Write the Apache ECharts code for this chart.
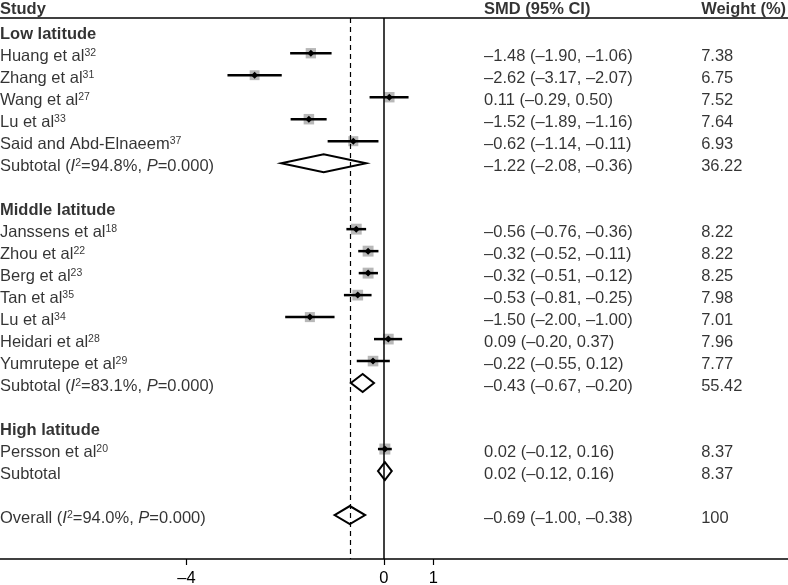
<!DOCTYPE html>
<html><head><meta charset="utf-8">
<script src="https://cdn.jsdelivr.net/npm/echarts@6/dist/echarts.min.js"></script>
<style>html,body{margin:0;padding:0;background:#fff}#c{width:788px;height:585px}</style>
</head><body><div id="c"></div>
<script>
// ---------- data ----------
const groupNames = ['Low latitude', 'Middle latitude', 'High latitude'];
const studyNames = ['Huang et al', 'Zhang et al', 'Wang et al', 'Lu et al', 'Said and Abd-Elnaeem',
  'Janssens et al', 'Zhou et al', 'Berg et al', 'Tan et al', 'Lu et al', 'Heidari et al', 'Yumrutepe et al',
  'Persson et al'];
const studyRefs = ['32', '31', '27', '33', '37', '18', '22', '23', '35', '34', '28', '29', '20'];
const studyGroup = [0, 0, 0, 0, 0, 1, 1, 1, 1, 1, 1, 1, 2];
const studySmd = [-1.48, -2.62, 0.11, -1.52, -0.62, -0.56, -0.32, -0.32, -0.53, -1.50, 0.09, -0.22, 0.02];
const studyLo = [-1.90, -3.17, -0.29, -1.89, -1.14, -0.76, -0.52, -0.51, -0.81, -2.00, -0.20, -0.55, -0.12];
const studyHi = [-1.06, -2.07, 0.50, -1.16, -0.11, -0.36, -0.11, -0.12, -0.25, -1.00, 0.37, 0.12, 0.16];
const studyWeight = [7.38, 6.75, 7.52, 7.64, 6.93, 8.22, 8.22, 8.25, 7.98, 7.01, 7.96, 7.77, 8.37];
const subSmd = [-1.22, -0.43, 0.02];
const subLo = [-2.08, -0.67, -0.12];
const subHi = [-0.36, -0.20, 0.16];
const subWeight = [36.22, 55.42, 8.37];
const subI2 = ['94.8', '83.1', null];
const subP = ['0.000', '0.000', null];
const overallSmd = -0.69, overallLo = -1.00, overallHi = -0.38, overallWeight = 100;
const overallI2 = '94.0', overallP = '0.000';
const tickValues = [-4, 0, 1];
const headers = ['Study', 'SMD (95% CI)', 'Weight (%)'];

// ---------- layout constants ----------
const X_MIN = -7.78, X_MAX = 8.19;
const COL_X = [X_MIN, 2.03, 6.43];
const HEADER_ROW = -1.15, HEADER_LINE_ROW = -0.6, AXIS_ROW = 24;
const FONT = "'Liberation Sans', Arial, Helvetica, sans-serif";
const FS = 16.5;

const fmt = v => v.toFixed(2).replace('-', '\u2013');
const ciText = (m, l, h) => `${fmt(m)} (${fmt(l)}, ${fmt(h)})`;
const esc = s => s.replace(/[{}|]/g, '');

// ---------- build rows ----------
const textItems = [];
const studyData = [];
const diamondData = [];
let r = 0;
headers.forEach((h, ci) => textItems.push({ value: [COL_X[ci], HEADER_ROW], name: `{b|${h}}` }));
groupNames.forEach((g, gi) => {
  textItems.push({ value: [COL_X[0], r], name: `{b|${esc(g)}}` });
  r++;
  studyNames.forEach((n, i) => {
    if (studyGroup[i] !== gi) return;
    textItems.push({ value: [COL_X[0], r], name: `{n|${esc(n)}}{s|${studyRefs[i]}}` });
    textItems.push({ value: [COL_X[1], r], name: `{n|${ciText(studySmd[i], studyLo[i], studyHi[i])}}` });
    textItems.push({ value: [COL_X[2], r], name: `{n|${String(studyWeight[i])}}` });
    studyData.push([r, studySmd[i], studyLo[i], studyHi[i], studyWeight[i]]);
    r++;
  });
  const lab = subI2[gi] ? `{n|Subtotal (}{i|I}{s|2}{n|=${subI2[gi]}%, }{i|P}{n|=${subP[gi]})}` : `{n|Subtotal}`;
  textItems.push({ value: [COL_X[0], r], name: lab });
  textItems.push({ value: [COL_X[1], r], name: `{n|${ciText(subSmd[gi], subLo[gi], subHi[gi])}}` });
  textItems.push({ value: [COL_X[2], r], name: `{n|${String(subWeight[gi])}}` });
  diamondData.push([r, subSmd[gi], subLo[gi], subHi[gi]]);
  r++;
  r++; // blank row
});
textItems.push({ value: [COL_X[0], r], name: `{n|Overall (}{i|I}{s|2}{n|=${overallI2}%, }{i|P}{n|=${overallP})}` });
textItems.push({ value: [COL_X[1], r], name: `{n|${ciText(overallSmd, overallLo, overallHi)}}` });
textItems.push({ value: [COL_X[2], r], name: `{n|${String(overallWeight)}}` });
diamondData.push([r, overallSmd, overallLo, overallHi]);

// ---------- render ----------
const chart = echarts.init(document.getElementById('c'), null, { renderer: 'canvas' });
const rich = {
  n: { fontSize: FS, fontFamily: FONT, color: '#000', lineHeight: 18 },
  b: { fontSize: FS, fontFamily: FONT, color: '#000', fontWeight: 'bold', lineHeight: 18 },
  i: { fontSize: FS, fontFamily: FONT, color: '#000', fontStyle: 'italic', lineHeight: 18 },
  s: { fontSize: 10.5, fontFamily: FONT, color: '#000', verticalAlign: 'top', lineHeight: 10 }
};

chart.setOption({
  animation: false,
  backgroundColor: '#fff',
  grid: { left: 0, right: 0, top: 0, bottom: 26, containLabel: false, outerBoundsMode: 'none' },
  xAxis: {
    type: 'value', min: X_MIN, max: X_MAX,
    splitLine: { show: false },
    axisLine: { show: true, onZero: false, lineStyle: { color: '#000', width: 1.5 } },
    axisTick: { show: true, customValues: tickValues, length: 6, lineStyle: { color: '#000', width: 1.2 } },
    axisLabel: {
      show: true, customValues: tickValues, margin: 11, fontSize: FS, fontFamily: FONT, color: '#000',
      formatter: v => String(v).replace('-', '\u2013')
    }
  },
  yAxis: { type: 'value', inverse: true, min: -1.42, max: AXIS_ROW, show: false },
  series: [
    {
      type: 'custom', name: 'studies', clip: false, silent: true,
      data: studyData,
      renderItem: (params, api) => {
        const row = api.value(0);
        const pm = api.coord([api.value(1), row]);
        const pl = api.coord([api.value(2), row]);
        const ph = api.coord([api.value(3), row]);
        const s = 3.8 * Math.sqrt(api.value(4));
        return {
          type: 'group', children: [
            { type: 'rect', shape: { x: pm[0] - s / 2, y: pm[1] - s / 2, width: s, height: s },
              style: { fill: '#b8b8b8' } },
            { type: 'line', shape: { x1: pl[0], y1: pl[1], x2: ph[0], y2: ph[1] },
              style: { stroke: '#000', lineWidth: 2.5 } },
            { type: 'polygon', shape: { points: [[pm[0] - 3.5, pm[1]], [pm[0], pm[1] - 3.5], [pm[0] + 3.5, pm[1]], [pm[0], pm[1] + 3.5]] },
              style: { fill: '#000' } }
          ]
        };
      },
      markLine: {
        silent: true, symbol: 'none', label: { show: false },
        data: [
          [{ coord: [0, HEADER_LINE_ROW] }, { coord: [0, AXIS_ROW] }],
          [{ coord: [overallSmd, HEADER_LINE_ROW], lineStyle: { type: [5, 4], width: 1.2 } }, { coord: [overallSmd, AXIS_ROW] }],
          [{ coord: [X_MIN, HEADER_LINE_ROW] }, { coord: [X_MAX, HEADER_LINE_ROW] }]
        ],
        lineStyle: { color: '#000', width: 1.5, type: 'solid' }
      }
    },
    {
      type: 'custom', name: 'diamonds', clip: false, silent: true,
      data: diamondData,
      renderItem: (params, api) => {
        const row = api.value(0);
        const pm = api.coord([api.value(1), row]);
        const pl = api.coord([api.value(2), row]);
        const ph = api.coord([api.value(3), row]);
        const hh = 9;
        return {
          type: 'polygon',
          shape: { points: [[pl[0], pl[1]], [pm[0], pm[1] - hh], [ph[0], ph[1]], [pm[0], pm[1] + hh]] },
          style: { fill: '#fff', stroke: '#000', lineWidth: 2 }
        };
      }
    },
    {
      type: 'scatter', name: 'text', silent: true, clip: false,
      symbolSize: 0,
      data: textItems,
      label: {
        show: true, position: 'right', distance: 0, offset: [0, 3.5],
        formatter: p => p.name, rich: rich
      },
      z: 10
    }
  ]
});
</script>
</body></html>
